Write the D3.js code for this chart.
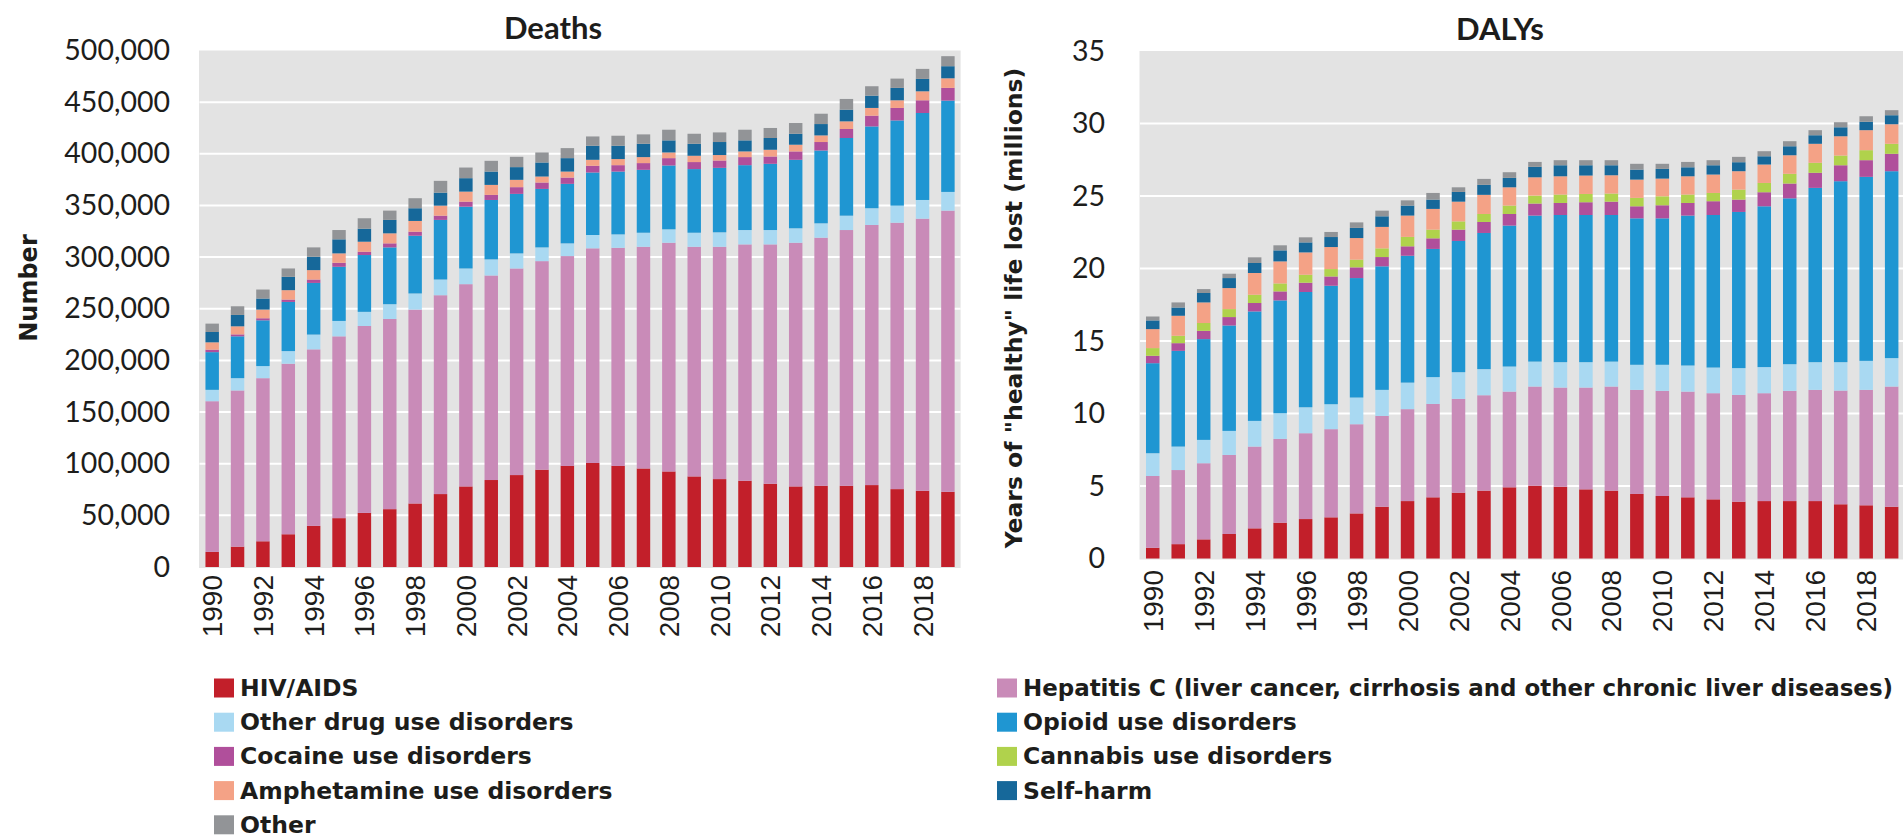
<!DOCTYPE html>
<html><head><meta charset="utf-8">
<script src="https://cdn.jsdelivr.net/npm/d3@7"></script>
<style>body{margin:0;background:#fff;} svg{display:block}</style>
</head><body>
<svg id="chart" width="1903" height="839"></svg>
<script>
// ---------- DATA ----------
const years = [1990,1991,1992,1993,1994,1995,1996,1997,1998,1999,2000,2001,2002,2003,2004,2005,2006,2007,2008,2009,2010,2011,2012,2013,2014,2015,2016,2017,2018,2019];
const yearTickLabels = [1990,1992,1994,1996,1998,2000,2002,2004,2006,2008,2010,2012,2014,2016,2018];

const seriesNames = [
  "HIV/AIDS",
  "Hepatitis C (liver cancer, cirrhosis and other chronic liver diseases)",
  "Other drug use disorders",
  "Opioid use disorders",
  "Cocaine use disorders",
  "Cannabis use disorders",
  "Amphetamine use disorders",
  "Self-harm",
  "Other"
];
const seriesColors = ["#C21F2A","#C98BB8","#A9D9F2","#1F96D2","#B04F9B","#B0D24C","#F4A286","#16689A","#929497"];

// Deaths (number)
const deathsHIV       = [14600,19700,24900,31700,39800,47300,52400,56000,61500,70600,78000,84200,89000,94200,97800,100700,97800,95400,92500,87700,85100,83500,80600,78000,78600,78600,79300,75400,73800,72800];
const deathsHepC      = [145900,151200,157900,165100,170900,176000,180900,184100,187700,192500,195800,198000,200000,201900,203200,207800,211200,214600,221400,222300,224900,228800,231700,235900,240200,247600,251800,257900,263400,272200];
const deathsOtherDrug = [11000,11900,11700,12200,14300,14900,13700,14300,15600,15200,15200,15600,14600,13300,12300,12900,13000,13600,13000,13600,14000,13900,13900,14000,13900,13900,16200,16500,18100,18100];
const deathsOpioid    = [36500,40500,44300,47600,50000,52400,55000,55000,55900,57700,59800,57500,57600,56600,57600,60500,60800,60900,61800,61600,62400,62800,64100,66300,70500,75200,79200,82500,84200,88400];
const deathsCocaine   = [2400,1900,2000,2300,3300,3900,3200,3900,3900,4100,4900,4900,6500,6200,6100,6500,6200,6500,7100,6800,7100,7800,7100,8100,8200,8700,10400,12100,12300,12300];
const deathsCannabis  = [0,0,0,0,0,0,0,0,0,0,0,0,0,0,0,0,0,0,0,0,0,0,0,0,0,0,0,0,0,0];
const deathsAmph      = [7100,7800,8400,9100,9100,9100,9700,9700,10400,9700,9700,9700,7100,5800,5800,5800,5900,5800,5500,6100,5300,5500,6500,6500,6400,7400,7500,7400,8700,9300];
const deathsSelfHarm  = [10000,11000,10700,12900,12900,13600,12600,13000,12300,12600,13000,12900,12300,13600,13000,13600,12900,12900,11700,11600,12600,10700,11400,10600,11000,11300,11900,12000,12000,11700];
const deathsOther     = [8100,8400,8700,8100,9100,9000,10100,9000,9700,11400,10300,10400,10000,9700,9700,9000,9700,9100,10300,9700,9300,10300,9700,10400,10000,10400,9100,9000,9700,9700];

// DALYs (millions)
const dalysHIV       = [0.74,0.99,1.32,1.69,2.08,2.47,2.72,2.84,3.11,3.57,3.96,4.22,4.54,4.68,4.91,5.02,4.95,4.77,4.68,4.45,4.31,4.22,4.08,3.92,3.96,3.96,3.96,3.74,3.67,3.57];
const dalysHepC      = [4.95,5.11,5.25,5.45,5.64,5.78,5.92,6.08,6.15,6.26,6.34,6.44,6.47,6.58,6.60,6.84,6.84,7.02,7.18,7.18,7.25,7.29,7.32,7.36,7.44,7.60,7.67,7.84,7.96,8.29];
const dalysOtherDrug = [1.57,1.62,1.61,1.66,1.77,1.77,1.79,1.72,1.84,1.80,1.83,1.85,1.84,1.80,1.73,1.72,1.75,1.75,1.72,1.73,1.80,1.80,1.77,1.85,1.80,1.84,1.91,1.96,2.00,1.96];
const dalysOpioid    = [6.21,6.60,6.95,7.27,7.55,7.78,7.95,8.17,8.24,8.52,8.75,8.84,9.05,9.39,9.72,10.07,10.15,10.15,10.11,10.10,10.10,10.34,10.52,10.77,11.09,11.44,12.02,12.48,12.69,12.89];
const dalysCocaine   = [0.51,0.53,0.57,0.58,0.58,0.62,0.64,0.64,0.74,0.64,0.65,0.73,0.78,0.76,0.80,0.83,0.83,0.88,0.92,0.83,0.90,0.87,0.95,0.85,0.97,1.02,1.04,1.10,1.15,1.20];
const dalysCannabis  = [0.53,0.51,0.54,0.55,0.57,0.55,0.55,0.51,0.53,0.60,0.65,0.60,0.57,0.55,0.58,0.55,0.58,0.57,0.56,0.58,0.62,0.58,0.57,0.69,0.64,0.67,0.69,0.67,0.69,0.69];
const dalysAmph      = [1.31,1.38,1.42,1.45,1.50,1.52,1.54,1.52,1.49,1.48,1.47,1.43,1.36,1.32,1.26,1.26,1.26,1.27,1.26,1.26,1.22,1.26,1.27,1.27,1.27,1.28,1.31,1.33,1.38,1.35];
const dalysSelfHarm  = [0.60,0.57,0.65,0.69,0.69,0.76,0.69,0.69,0.70,0.73,0.69,0.64,0.67,0.69,0.65,0.72,0.76,0.71,0.69,0.69,0.67,0.62,0.64,0.62,0.57,0.62,0.59,0.62,0.58,0.62];
const dalysOther     = [0.27,0.35,0.27,0.30,0.39,0.35,0.35,0.35,0.38,0.39,0.36,0.46,0.32,0.41,0.39,0.34,0.35,0.35,0.35,0.40,0.35,0.37,0.35,0.37,0.35,0.35,0.35,0.35,0.38,0.35];

const deathsTicks = [0,50000,100000,150000,200000,250000,300000,350000,400000,450000,500000];
const dalysTicks  = [0,5,10,15,20,25,30,35];

// ---------- BUILD ----------
const deathsSeries = [deathsHIV,deathsHepC,deathsOtherDrug,deathsOpioid,deathsCocaine,deathsCannabis,deathsAmph,deathsSelfHarm,deathsOther];
const dalysSeries  = [dalysHIV,dalysHepC,dalysOtherDrug,dalysOpioid,dalysCocaine,dalysCannabis,dalysAmph,dalysSelfHarm,dalysOther];

function toRows(seriesArr){
  return years.map((y,i)=>{
    const r = {year:y};
    seriesArr.forEach((s,k)=>{ r["s"+k] = s[i]; });
    return r;
  });
}
const keys = seriesNames.map((d,k)=>"s"+k);
const svg = d3.select("#chart");
const TXT = "#1d1d1b";

function panel(cfg){
  const g = svg.append("g");
  const x = d3.scaleBand().domain(years).range(cfg.xRange).paddingInner(0.47).paddingOuter(0.235);
  const y = d3.scaleLinear().domain([0, cfg.ticks[cfg.ticks.length-1]]).range(cfg.yRange);

  // plot background
  g.append("rect")
    .attr("x", cfg.xRange[0]-0.5).attr("y", y.range()[1])
    .attr("width", Math.min(cfg.xRange[1], 1903) - cfg.xRange[0] + 0.5)
    .attr("height", y.range()[0]-y.range()[1]+1)
    .attr("fill","#E3E3E3");

  // gridlines
  g.selectAll("line.grid").data(cfg.ticks.slice(1, -1)).join("line")
    .attr("x1", cfg.xRange[0]).attr("x2", Math.min(cfg.xRange[1], 1903))
    .attr("y1", d=>y(d)).attr("y2", d=>y(d))
    .attr("stroke","#fff").attr("stroke-width",2);

  // stacked bars
  const stacked = d3.stack().keys(keys)(toRows(cfg.series));
  g.selectAll("g.layer").data(stacked).join("g")
    .attr("fill",(d,i)=>seriesColors[i])
    .selectAll("rect").data(d=>d).join("rect")
      .attr("x", d=>x(d.data.year))
      .attr("width", x.bandwidth())
      .attr("y", d=>y(d[1]))
      .attr("height", d=>Math.max(0, y(d[0])-y(d[1])));

  // y axis
  const ya = g.append("g").attr("transform",`translate(${cfg.xRange[0]},0)`)
    .call(d3.axisLeft(y).tickValues(cfg.ticks).tickSize(0).tickPadding(cfg.tickPad).tickFormat(cfg.fmt));
  ya.select(".domain").remove();
  ya.selectAll("text").attr("font-family","Lato, 'Open Sans', sans-serif").attr("font-size",28.5).attr("fill",TXT);

  // x axis
  const xa = g.append("g").attr("transform",`translate(0,${cfg.yRange[0]})`)
    .call(d3.axisBottom(x).tickValues(yearTickLabels).tickSize(0));
  xa.select(".domain").remove();
  xa.selectAll("text")
    .attr("transform","rotate(-90)")
    .attr("x", -cfg.xLabOff).attr("y",0).attr("dy","0.36em")
    .attr("text-anchor","end")
    .attr("font-family","'Liberation Sans', Arial, sans-serif").attr("font-size",28).attr("fill",TXT);

  // title
  g.append("text").attr("x",cfg.titleX).attr("y",cfg.titleY).attr("text-anchor","middle")
    .attr("font-family","Lato, sans-serif").attr("font-weight","bold").attr("font-size",31).attr("fill",TXT)
    .text(cfg.title);

  // y title
  g.append("text").attr("transform",`translate(${cfg.yTitleX},${cfg.yTitleY}) rotate(-90)`)
    .attr("text-anchor","middle").attr("dy","0.36em")
    .attr("font-family","'DejaVu Sans', Verdana, sans-serif").attr("font-weight","bold").attr("font-size",cfg.yTitleSize).attr("fill",TXT)
    .text(cfg.yTitle);
}

panel({series:deathsSeries, ticks:deathsTicks, fmt:d3.format(","),
  xRange:[199.5,960.6], yRange:[567,50.5], tickPad:29.5, xLabOff:8,
  title:"Deaths", titleX:553, titleY:39, yTitle:"Number", yTitleX:28, yTitleY:288, yTitleSize:24});
panel({series:dalysSeries, ticks:dalysTicks, fmt:d3.format("d"),
  xRange:[1140,1904.4], yRange:[558.5,51], tickPad:35, xLabOff:11.5,
  title:"DALYs", titleX:1500, titleY:40, yTitle:"Years of \"healthy\" life lost (millions)", yTitleX:1014, yTitleY:308, yTitleSize:23.5});

// legend
const LEG_FS = 23.5;
const leg = svg.append("g");
const legItems = leg.selectAll("g").data(seriesNames).join("g")
  .attr("transform",(d,i)=>`translate(${i%2===0?214:997},${688 + Math.floor(i/2)*34.2})`);
legItems.append("rect").attr("x",0).attr("y",-9.5).attr("width",20).attr("height",19)
  .attr("fill",(d,i)=>seriesColors[i]);
legItems.append("text").attr("x",26).attr("y",8)
  .attr("font-family","'DejaVu Sans', Verdana, sans-serif").attr("font-weight","bold").attr("font-size",LEG_FS).attr("fill",TXT)
  .text(d=>d)
  .each(function(d,i){
    const startX = (i%2===0?214:997) + 26;
    const maxW = 1893 - startX;
    const len = this.getComputedTextLength();
    if (len > maxW) {
      d3.select(this).attr("font-size", (LEG_FS * maxW / len).toFixed(2));
    }
  });
</script>
</body></html>
